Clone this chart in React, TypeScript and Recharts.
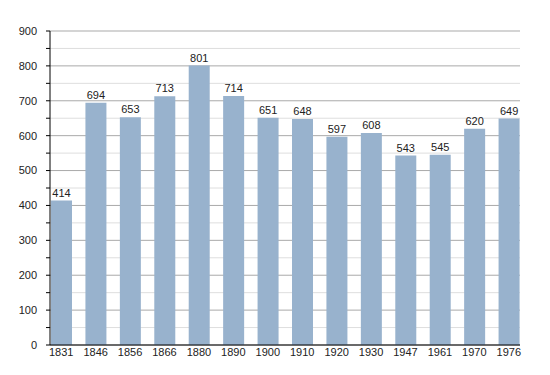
import React from 'react'
import {
  BarChart,
  Bar,
  XAxis,
  YAxis,
  CartesianGrid,
  LabelList,
} from 'recharts'

const years = ['1831', '1846', '1856', '1866', '1880', '1890', '1900', '1910', '1920', '1930', '1947', '1961', '1970', '1976']
const population = [414, 694, 653, 713, 801, 714, 651, 648, 597, 608, 543, 545, 620, 649]
const yTicks = [0, 50, 100, 150, 200, 250, 300, 350, 400, 450, 500, 550, 600, 650, 700, 750, 800, 850, 900]

const data = years.map((year, i) => ({ year, value: population[i] }))

const font = 'Liberation Sans, Arial, sans-serif'

const gridLine = (props: any) => {
  const { x1, y1, x2, y2, index } = props
  const major = index % 2 === 0
  return (
    <line
      key={`h-${index}`}
      x1={x1}
      y1={y1}
      x2={x2}
      y2={y2}
      stroke={major ? '#a9a9a9' : '#dedede'}
      strokeWidth={1}
    />
  )
}

function App() {
  return (
    <div style={{ position: 'absolute', left: 0, top: 0, width: 550, height: 375, background: '#fff' }}>
      <BarChart
        width={550}
        height={375}
        data={data}
        margin={{ top: 31, right: 30, left: 0, bottom: 0 }}
        barSize={21}
      >
        <CartesianGrid vertical={false} horizontal={gridLine} />
        <XAxis
          dataKey="year"
          height={30}
          padding={{ left: -6, right: -6 }}
          tickLine={false}
          tickSize={0}
          tickMargin={3}
          axisLine={{ stroke: '#000' }}
          tick={{ fill: '#222', fontSize: 11, fontFamily: font }}
          interval={0}
        />
        <YAxis
          width={50}
          domain={[0, 900]}
          ticks={yTicks}
          interval={0}
          tickSize={4}
          tickMargin={9}
          tickLine={{ stroke: '#000' }}
          axisLine={{ stroke: '#000' }}
          tickFormatter={(v: number) => (v % 100 === 0 ? String(v) : '')}
          tick={{ fill: '#222', fontSize: 11, fontFamily: font }}
        />
        <Bar dataKey="value" fill="#98b2cd" isAnimationActive={false}>
          <LabelList
            dataKey="value"
            position="top"
            offset={4}
            style={{ fill: '#222', fontSize: 11, fontFamily: font }}
          />
        </Bar>
      </BarChart>
    </div>
  )
}

export default App
